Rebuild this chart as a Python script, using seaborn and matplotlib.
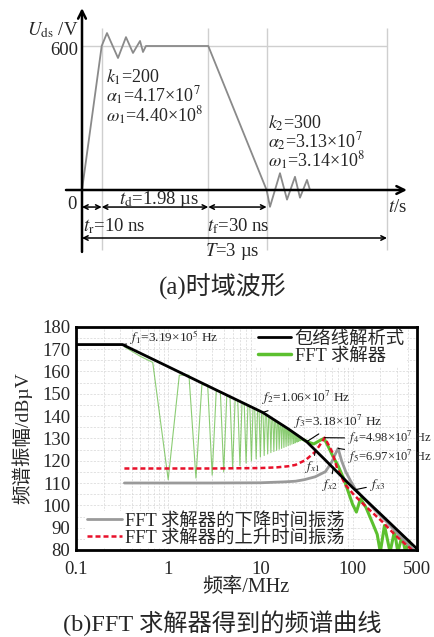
import numpy as np
import pandas as pd
import seaborn as sns
import matplotlib.pyplot as plt
from matplotlib.lines import Line2D
from matplotlib.ticker import LogLocator, MultipleLocator, NullFormatter

sns.set_style('white')
plt.rcParams['font.family'] = ['Liberation Serif', 'Noto Sans CJK SC']
plt.rcParams['mathtext.fontset'] = 'stix'
plt.rcParams['axes.unicode_minus'] = False

# ---- (a) time-domain waveform (schematic time axis, us, not to scale) ----
wave_t = [0, 0.193, 0.245, 0.353, 0.431, 0.500, 0.569, 0.598, 0.627,
          1.238, 1.810, 1.843, 1.941, 2.010, 2.088, 2.137, 2.206, 2.235]
wave_v = [0, 600, 654, 550, 637, 571, 621, 575, 600,
          600, 0, -70, 70, -40, 55, -32, 42, 0]
event_t = [0.193, 1.238, 1.810, 2.99]   # end of rise, start of fall, end of fall, T
level_v = 600

# ---- (b) spectra (MHz, dBuV) ----
env_f = [0.1, 0.319, 1, 3.19, 10.6, 20, 31.8, 50, 100, 200, 500]
env_db = [172, 172, 162.1, 152, 141.6, 134.3, 128.5, 120.5, 108, 96.2, 80.5]

green_head_f = [0.335, 0.5, 0.68]
green_head_db = [171, 166.7, 164.0]
notch_mhz = [1, 2, 3, 4, 5, 6, 7, 8, 9, 10, 11, 12, 13, 14, 15, 16, 17, 18, 19, 20,
             21, 22, 23, 24, 25, 26, 27, 28, 29]
notch_db = [111.5, 112.2, 113.5, 115.0, 116.5, 117.8, 118.9, 119.9, 120.8, 121.6,
            122.3, 123.0, 123.6, 124.1, 124.6, 125.1, 125.5, 125.9, 126.3, 126.7,
            127.0, 127.4, 127.7, 128.0, 128.3, 128.6, 128.9, 129.2, 129.5]
lobe_peak_db = [158.3, 154.0, 151.0, 148.8, 147.1, 145.6, 144.4, 143.3, 142.3, 141.4,
                140.5, 139.6, 138.8, 138.0, 137.3, 136.6, 136.0, 135.3, 134.7, 134.1,
                133.5, 133.0, 132.5, 132.0, 131.5, 131.0, 130.5, 130.0]
green_tail_f = [29, 33, 38, 44, 49, 55, 62, 70, 80, 90, 100, 110, 122, 140, 165, 185,
                200, 222, 255, 285, 310, 345, 375, 410, 440]
green_tail_db = [129.5, 128.3, 127.5, 129, 130, 126, 121.5, 117.5, 112, 106, 100.5, 97,
                 103, 99, 92, 87, 79, 91, 79, 88.5, 79, 86.5, 79, 84, 79]

red_f = [0.335, 1, 3, 10, 15, 20, 24, 31, 39.4, 45, 49.8, 55, 60, 68, 84, 104, 140,
         210, 290, 420, 440]
red_db = [116.5, 116.5, 116.5, 116.7, 117.0, 117.5, 118.1, 120.3, 124, 127.5, 130.3,
          127, 124, 116.6, 109.1, 104.6, 99.4, 92.7, 86.7, 80.8, 80]
gray_f = [0.335, 1, 3, 10, 18, 24, 30, 39.4, 50.8, 59.7, 65, 69.7, 76, 84.3, 95, 107,
          163, 245, 400, 460]
gray_db = [110, 110, 110, 110.1, 110.5, 110.8, 111.5, 112.8, 115.1, 119.5, 123, 125.5,
           120, 115.1, 111, 107.3, 99.2, 91.8, 82.5, 80]

mark_f = [0.319, 10.6, 31.8, 49.8, 69.7]

W, H = 435, 637
fig = plt.figure(figsize=(W / 100, H / 100), dpi=100)

# ================= (a) =================
ax1 = fig.add_axes([0, 1 - 300 / H, 1, 300 / H])
ax1.set_xlim(-82 / 102, (W - 82) / 102)
ax1.set_ylim(-(300 - 190) / 0.24, 190 / 0.24)
ax1.axis('off')

ax1.vlines(event_t, -250, 675, colors='#cfcfcf', lw=1)
ax1.hlines(level_v, 0, event_t[-1], colors='#cfcfcf', lw=1)
sns.lineplot(x=wave_t, y=wave_v, ax=ax1, color='#8a8a8a', lw=1.3, sort=False, estimator=None)

ax1.annotate('', xy=(3.186, 0), xytext=(-0.157, 0),
             arrowprops=dict(arrowstyle='->', lw=1.8, color='black', mutation_scale=14,
                             shrinkA=0, shrinkB=0))
ax1.annotate('', xy=(0, 758), xytext=(0, -258),
             arrowprops=dict(arrowstyle='->', lw=1.8, color='black', mutation_scale=14,
                             shrinkA=0, shrinkB=0))
dim = dict(arrowstyle='<->', lw=1.1, color='black', mutation_scale=8, shrinkA=0, shrinkB=0)
for a, b in zip([0] + event_t[:2], event_t[:3]):
    ax1.annotate('', xy=(b, -71), xytext=(a, -71), arrowprops=dim)
ax1.annotate('', xy=(event_t[-1], -200), xytext=(0, -200), arrowprops=dim)

fs = 13.5
ax1.text(-0.04, 667, r'$U_{\rm ds}$ /V', ha='right', va='center', fontsize=fs)
ax1.text(-0.04, 583, '600', ha='right', va='center', fontsize=fs)
ax1.text(-0.098, -62, '0', ha='center', va='center', fontsize=fs)
ax1.text(3.098, -75, r'$t$/s', ha='center', va='center', fontsize=fs)
for i, s in enumerate([r'$k_1$=200', r'$\alpha_1$=4.17×10$^7$', r'$\omega_1$=4.40×10$^8$']):
    ax1.text(0.235, 471 - i * 80, s, ha='left', va='center', fontsize=13)
for i, s in enumerate([r'$k_2$=300', r'$\alpha_2$=3.13×10$^7$', r'$\omega_1$=3.14×10$^8$']):
    ax1.text(1.824, 279 - i * 78, s, ha='left', va='center', fontsize=13)
ax1.text(0.755, -39, r'$t_{\rm d}$=1.98 µs', ha='center', va='center', fontsize=fs)
ax1.text(0.01, -150, r'$t_{\rm r}$=10 ns', ha='left', va='center', fontsize=fs)
ax1.text(1.225, -150, r'$t_{\rm f}$=30 ns', ha='left', va='center', fontsize=fs)
ax1.text(1.47, -258, r'$T$=3 µs', ha='center', va='center', fontsize=fs)

fig.text(223 / W, 1 - 287 / H, '(a)时域波形', ha='center', va='center', fontsize=18)

# ================= (b) =================
ax2 = fig.add_axes([76 / W, 1 - 550 / H, 341 / W, 223.3 / H])
ax2.set_xscale('log')
ax2.set_xlim(0.1, 500)
ax2.set_ylim(80, 180)

lobe_f, lobe_db = list(green_head_f), list(green_head_db)
for n, lo, hi in zip(notch_mhz[:-1], notch_db[:-1], lobe_peak_db):
    lobe_f += [n, n + 0.32, n + 0.68]
    lobe_db += [lo, hi, hi]
lobe_f.append(notch_mhz[-1])
lobe_db.append(notch_db[-1])
lobes = pd.DataFrame({'f': lobe_f, 'db': lobe_db})

sns.lineplot(data=lobes, x='f', y='db', ax=ax2, color='#5cb83a', alpha=0.7, lw=0.8,
             sort=False, estimator=None)
sns.lineplot(x=green_tail_f, y=green_tail_db, ax=ax2, color='#5cc02f', lw=2.2,
             sort=False, estimator=None)
sns.lineplot(x=gray_f, y=gray_db, ax=ax2, color='#9a9a9a', lw=2, sort=False, estimator=None)
sns.lineplot(x=red_f, y=red_db, ax=ax2, color='#e8102a', lw=1.8, linestyle=(0, (2, 1.2)),
             sort=False, estimator=None)
sns.lineplot(x=env_f, y=env_db, ax=ax2, color='black', lw=2, sort=False, estimator=None)

ax2.set_xticks([0.1, 1, 10, 100, 500])
ax2.set_xticklabels(['0.1', '1', '10', '100', '500'])
ax2.xaxis.set_minor_locator(LogLocator(subs=range(2, 10)))
ax2.xaxis.set_minor_formatter(NullFormatter())
ax2.set_yticks(range(80, 181, 10))
ax2.yaxis.set_minor_locator(MultipleLocator(5))
ax2.tick_params(which='major', direction='in', length=6, width=1.5, labelsize=13.5,
                top=False, right=False)
ax2.tick_params(axis='x', which='major', pad=8)
ax2.tick_params(axis='y', which='major', pad=4)
ax2.tick_params(which='minor', length=0)
ax2.grid(True, which='both', color='#d6d6d6', lw=0.5, ls=(0, (3, 2)))
for sp in ax2.spines.values():
    sp.set_linewidth(2)
    sp.set_color('black')

ax2.set_xlabel('频率/MHz', fontsize=14.5)
ax2.set_ylabel('频谱振幅/dBµV', fontsize=14)
ax2.xaxis.set_label_coords(0.4985, -0.125)
ax2.yaxis.set_label_coords(-0.128, 0.5)

# marker annotations
ann = dict(arrowstyle='-', lw=0.8, color='black', shrinkA=0, shrinkB=0)
fsa = 9.5
ax2.annotate(r'$f_1$=3.19×10$^5$ Hz', xy=(mark_f[0], env_db[1]), xytext=(0.158, 0.949),
             textcoords='axes fraction', ha='left', va='center', fontsize=fsa, arrowprops=ann)
ax2.annotate(r'$f_2$=1.06×10$^7$ Hz', xy=(mark_f[1], env_db[4]), xytext=(0.545, 0.679),
             textcoords='axes fraction', ha='left', va='center', fontsize=fsa, arrowprops=ann)
ax2.annotate(r'$f_3$=3.18×10$^7$ Hz', xy=(mark_f[2], env_db[6]), xytext=(0.639, 0.575),
             textcoords='axes fraction', ha='left', va='center', fontsize=fsa, arrowprops=ann)
ax2.annotate(r'$f_4$=4.98×10$^7$ Hz', xy=(mark_f[3], red_db[10]), xytext=(0.797, 0.50),
             textcoords='axes fraction', ha='left', va='center', fontsize=9, arrowprops=ann,
             annotation_clip=False)
ax2.annotate(r'$f_5$=6.97×10$^7$ Hz', xy=(mark_f[4], gray_db[11]), xytext=(0.797, 0.418),
             textcoords='axes fraction', ha='left', va='center', fontsize=9, arrowprops=ann,
             annotation_clip=False)
ax2.annotate(r'$f_{x1}$', xy=(39.4, 124.3), xytext=(0.6935, 0.373),
             textcoords='axes fraction', ha='center', va='center', fontsize=fsa, arrowprops=ann)
ax2.annotate(r'$f_{x2}$', xy=(62, 117), xytext=(0.745, 0.291),
             textcoords='axes fraction', ha='center', va='center', fontsize=fsa, arrowprops=ann)
ax2.annotate(r'$f_{x3}$', xy=(107, 107), xytext=(0.884, 0.291),
             textcoords='axes fraction', ha='center', va='center', fontsize=fsa, arrowprops=ann)

leg_kw = dict(fontsize=13.2, frameon=True, facecolor='white', edgecolor='none',
              framealpha=1, fancybox=False, borderpad=0.1, handlelength=1.8,
              handletextpad=0.2, labelspacing=0.0, borderaxespad=0)
leg1 = ax2.legend(handles=[Line2D([], [], color='black', lw=2),
                           Line2D([], [], color='#5cc02f', lw=2.5)],
                  labels=['包络线解析式', 'FFT 求解器'], loc='upper left',
                  bbox_to_anchor=(0.528, 0.99), **leg_kw)
ax2.add_artist(leg1)
ax2.legend(handles=[Line2D([], [], color='#9a9a9a', lw=2),
                    Line2D([], [], color='#e8102a', lw=1.8, ls=(0, (2, 1.2)))],
           labels=['FFT 求解器的下降时间振荡', 'FFT 求解器的上升时间振荡'],
           loc='lower left', bbox_to_anchor=(0.026, 0.008),
           **{**leg_kw, 'handlelength': 1.9})

fig.text(222 / W, 1 - 623 / H, '(b)FFT 求解器得到的频谱曲线', ha='center', va='center',
         fontsize=17.5)

fig.savefig('out.png', dpi=100)
